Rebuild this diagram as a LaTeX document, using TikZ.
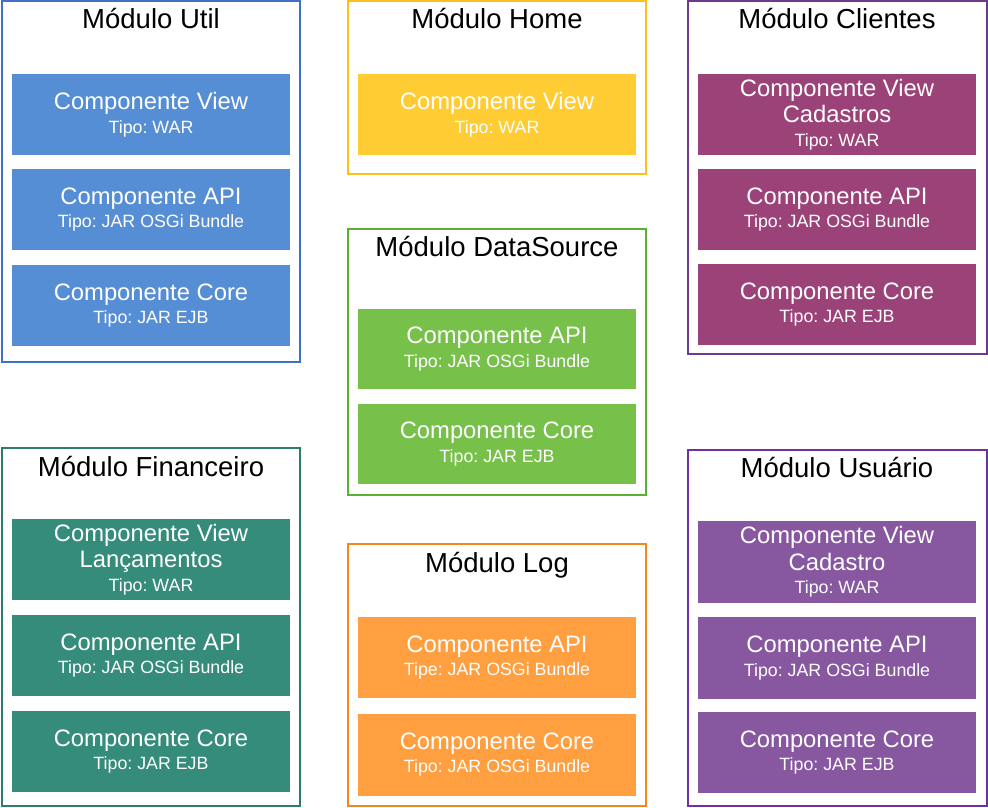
\documentclass[tikz,border=0pt]{standalone}
\usepackage{fontspec}
\setmainfont{Liberation Sans}
\usepackage{xcolor}
\usepackage{tikz}
\frenchspacing

\definecolor{utilLine}{HTML}{3F72C6}
\definecolor{utilFill}{HTML}{558ED5}
\definecolor{homeLine}{HTML}{FFBF1A}
\definecolor{homeFill}{HTML}{FFCC33}
\definecolor{cliLine}{HTML}{6E3A8C}
\definecolor{cliFill}{HTML}{9B4379}
\definecolor{dsLine}{HTML}{5DAF34}
\definecolor{dsFill}{HTML}{77C04A}
\definecolor{finLine}{HTML}{2E7D6B}
\definecolor{finFill}{HTML}{358C7A}
\definecolor{logLine}{HTML}{F5861F}
\definecolor{logFill}{HTML}{FF9F40}
\definecolor{usuLine}{HTML}{7030A0}
\definecolor{usuFill}{HTML}{8757A0}

\newcommand{\subline}{\fontsize{17.8}{20}\selectfont}

\begin{document}
\begin{tikzpicture}[x=1pt, y=-1pt,
	modframe/.style={draw, line width=2pt, fill=white, minimum width=298pt, inner sep=0pt},
	modtitle/.style={anchor=base, font=\fontsize{27.5}{30}\selectfont, text=black},
	comp/.style={minimum width=278pt, minimum height=81pt, inner sep=0pt, align=center,
		text=white, font=\fontsize{23.8}{26.7}\selectfont}]
	\useasboundingbox (0,0) rectangle (988,808);
	\fill[white] (0,0) rectangle (988,808);

	% modulo util
	\node[modframe, draw=utilLine, minimum height=361pt] (util) at (151,181.5) {};
	\node[modtitle] (util-title) at (151,29) {Módulo Util};
	\node[comp, fill=utilFill] (util-view) at (151,114.5) {Componente View\\[-3pt]\subline Tipo: WAR};
	\node[comp, fill=utilFill] (util-api) at (151,209.5) {Componente API\\[-3pt]\subline Tipo: JAR OSGi Bundle};
	\node[comp, fill=utilFill] (util-core) at (151,305.5) {Componente Core\\[-3pt]\subline Tipo: JAR EJB};

	% modulo home
	\node[modframe, draw=homeLine, minimum height=173pt] (home) at (497,87.5) {};
	\node[modtitle] (home-title) at (497,29) {Módulo Home};
	\node[comp, fill=homeFill] (home-view) at (497,114.5) {Componente View\\[-3pt]\subline Tipo: WAR};

	% modulo clientes
	\node[modframe, draw=cliLine, minimum width=299pt, minimum height=353pt] (cli) at (837.5,177.5) {};
	\node[modtitle] (cli-title) at (837,29) {Módulo Clientes};
	\node[comp, fill=cliFill] (cli-view) at (837,114.5) {Componente View\\Cadastros\\[-3pt]\subline Tipo: WAR};
	\node[comp, fill=cliFill] (cli-api) at (837,209.5) {Componente API\\[-3pt]\subline Tipo: JAR OSGi Bundle};
	\node[comp, fill=cliFill] (cli-core) at (837,304.5) {Componente Core\\[-3pt]\subline Tipo: JAR EJB};

	% modulo datasource
	\node[modframe, draw=dsLine, minimum height=266pt] (ds) at (497,362) {};
	\node[modtitle] (ds-title) at (497,256.7) {Módulo DataSource};
	\node[comp, fill=dsFill, minimum height=80pt] (ds-api) at (497,349) {Componente API\\[-3pt]\subline Tipo: JAR OSGi Bundle};
	\node[comp, fill=dsFill, minimum height=80pt] (ds-core) at (497,444) {Componente Core\\[-3pt]\subline Tipo: JAR EJB};

	% modulo financeiro
	\node[modframe, draw=finLine, minimum height=358pt] (fin) at (151,627) {};
	\node[modtitle] (fin-title) at (151,476) {Módulo Financeiro};
	\node[comp, fill=finFill] (fin-view) at (151,559.5) {Componente View\\Lançamentos\\[-3pt]\subline Tipo: WAR};
	\node[comp, fill=finFill] (fin-api) at (151,655.5) {Componente API\\[-3pt]\subline Tipo: JAR OSGi Bundle};
	\node[comp, fill=finFill] (fin-core) at (151,751.5) {Componente Core\\[-3pt]\subline Tipo: JAR EJB};

	% modulo log
	\node[modframe, draw=logLine, minimum height=262pt] (log) at (497,675) {};
	\node[modtitle] (log-title) at (497,572.7) {Módulo Log};
	\node[comp, fill=logFill] (log-api) at (497,657.5) {Componente API\\[-3pt]\subline Tipe: JAR OSGi Bundle};
	\node[comp, fill=logFill, minimum height=82pt] (log-core) at (497,754.5) {Componente Core\\[-3pt]\subline Tipo: JAR OSGi Bundle};

	% modulo usuario
	\node[modframe, draw=usuLine, minimum width=299pt, minimum height=356pt] (usu) at (837.5,628) {};
	\node[modtitle] (usu-title) at (837,477.7) {Módulo Usuário};
	\node[comp, fill=usuFill, minimum height=82pt] (usu-view) at (837,562) {Componente View\\Cadastro\\[-3pt]\subline Tipo: WAR};
	\node[comp, fill=usuFill, minimum height=82pt] (usu-api) at (837,658) {Componente API\\[-3pt]\subline Tipo: JAR OSGi Bundle};
	\node[comp, fill=usuFill] (usu-core) at (837,752.5) {Componente Core\\[-3pt]\subline Tipo: JAR EJB};
\end{tikzpicture}
\end{document}
